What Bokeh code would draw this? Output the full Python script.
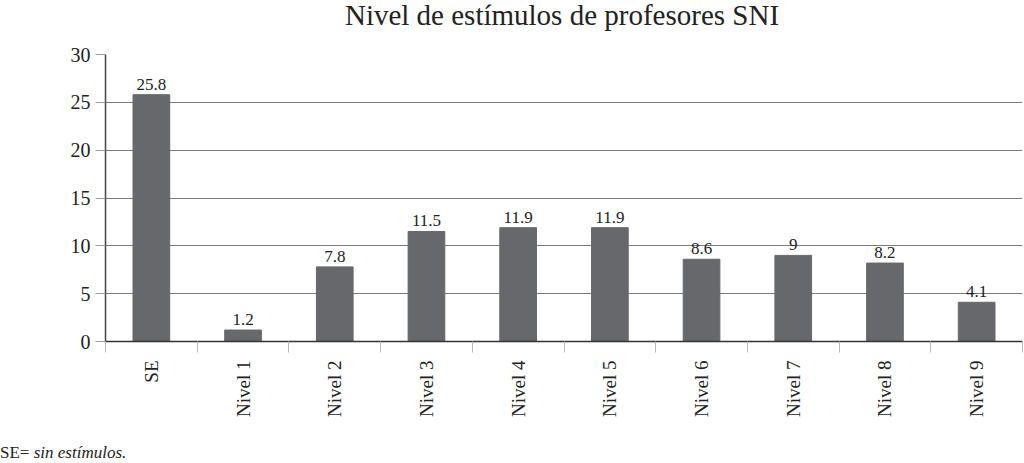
import math
from bokeh.plotting import figure
from bokeh.models import ColumnDataSource, Range1d, FixedTicker, Div
from bokeh.layouts import column
from bokeh.core.properties import value
from bokeh.embed import file_html
from bokeh.resources import INLINE

categories = ["SE", "Nivel 1", "Nivel 2", "Nivel 3", "Nivel 4", "Nivel 5",
              "Nivel 6", "Nivel 7", "Nivel 8", "Nivel 9"]
values = [25.8, 1.2, 7.8, 11.5, 11.9, 11.9, 8.6, 9, 8.2, 4.1]
y_ticks = [0, 5, 10, 15, 20, 25, 30]
title_text = "Nivel de estímulos de profesores SNI"
note_prefix = "SE= "
note_italic = "sin estímulos."

FONT = "Liberation Serif"
BAR = "#67686b"

xs = [i + 0.5 for i in range(len(categories))]
src = ColumnDataSource(dict(x=xs, top=values, cat=categories,
                            lab=[f"{v:g}" for v in values]))

title = Div(text=title_text, width=920, height=40, margin=(0, 0, 0, 102),
            styles={"font-family": FONT, "font-size": "29px", "line-height": "30px",
                    "color": "#222222", "text-align": "center", "white-space": "nowrap"})

p = figure(width=1024, height=403, output_backend="svg", toolbar_location=None,
           x_range=Range1d(0, len(categories)), y_range=Range1d(0, 30),
           min_border_left=105, min_border_right=2, min_border_top=14,
           min_border_bottom=102, margin=(0, 0, 0, 0))
p.outline_line_color = None
p.background_fill_color = "white"

p.vbar(x="x", top="top", width=0.4, source=src, color=BAR)
p.text(x="x", y="top", text="lab", source=src, text_align="center",
       text_baseline="bottom", y_offset=-5, text_font=value(FONT),
       text_font_size="17px", text_color="#222222")

# x axis
p.xaxis.ticker = FixedTicker(ticks=xs, minor_ticks=list(range(len(categories) + 1)))
p.xaxis.major_label_overrides = {x: c for x, c in zip(xs, categories)}
p.xaxis.major_label_orientation = math.pi / 2
p.xaxis.major_tick_out = 0
p.xaxis.major_tick_in = 0
p.xaxis.minor_tick_out = 11
p.xaxis.minor_tick_in = 0
p.xaxis.minor_tick_line_color = "#bbbbbb"
p.xaxis.axis_line_color = "#333333"
p.xaxis.axis_line_width = 1.5
p.xaxis.major_label_standoff = 8
p.xaxis.major_label_text_font = FONT
p.xaxis.major_label_text_font_size = "19px"
p.xaxis.major_label_text_color = "#222222"

# y axis
p.yaxis.ticker = FixedTicker(ticks=y_ticks)
p.yaxis.minor_tick_line_color = None
p.yaxis.major_tick_out = 10
p.yaxis.major_tick_in = 0
p.yaxis.major_tick_line_color = "#999999"
p.yaxis.axis_line_color = "#444444"
p.yaxis.axis_line_width = 1.5
p.yaxis.major_label_standoff = 5
p.yaxis.major_label_text_font = FONT
p.yaxis.major_label_text_font_size = "20px"
p.yaxis.major_label_text_color = "#222222"

p.xgrid.grid_line_color = None
p.ygrid.ticker = FixedTicker(ticks=y_ticks)
p.ygrid.grid_line_color = "#7a7a7a"
p.ygrid.grid_line_width = 1

note = Div(text=f"{note_prefix}<i>{note_italic}</i>", width=1024, height=20,
           margin=(0, 0, 0, 0),
           styles={"font-family": FONT, "font-size": "17px", "line-height": "20px",
                   "color": "#222222", "white-space": "nowrap"})

layout = column(title, p, note, spacing=0, margin=(0, 0, 0, 0))

open("out.html", "w").write(file_html(layout, INLINE))
